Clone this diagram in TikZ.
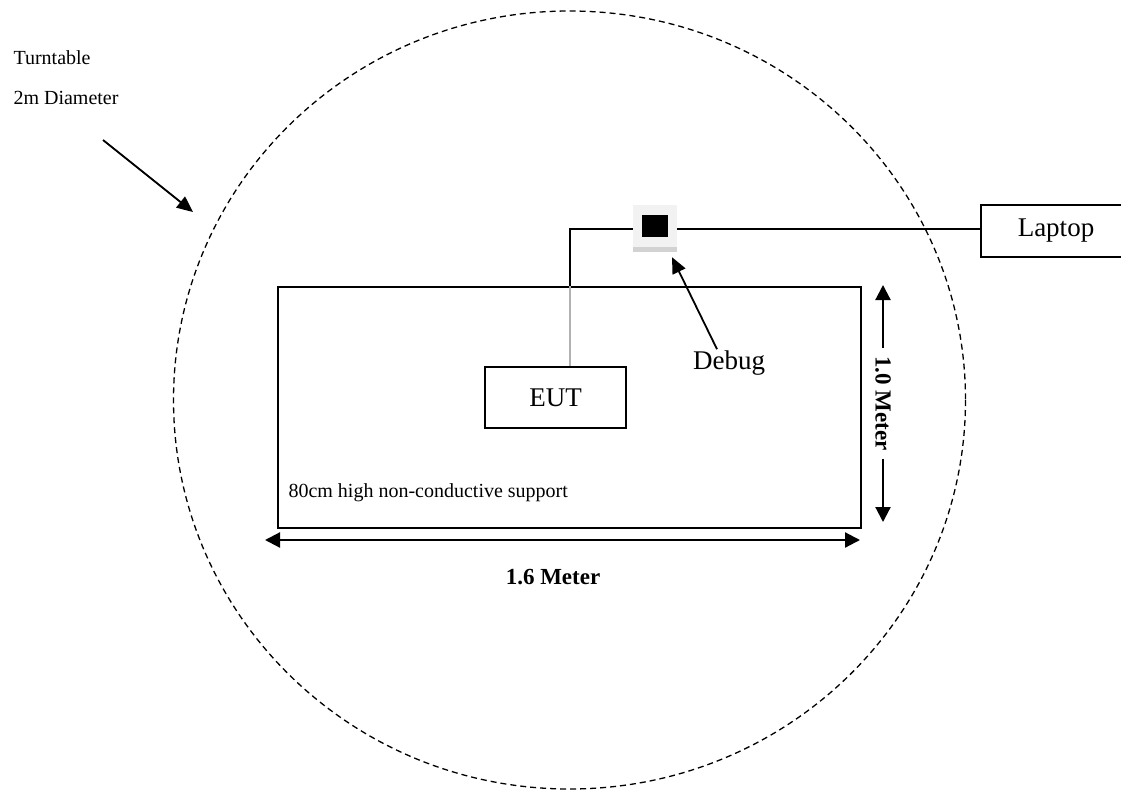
\documentclass[tikz,border=0pt]{standalone}
\usepackage{fontspec}
\setmainfont{Liberation Serif}
\usepackage{tikz}
\usetikzlibrary{arrows.meta,shadows}

\tikzset{
  box/.style={draw, line width=1.5pt, inner sep=0pt},
  lbl/.style={font=\fontsize{27}{30}\selectfont},
  dimlbl/.style={font=\bfseries\fontsize{23}{26}\selectfont},
  small/.style={font=\fontsize{20}{24}\selectfont},
  pointer/.style={line width=1.8pt, -{Triangle[length=16pt,width=14pt]}},
  dim/.style={line width=2.2pt, {Triangle[length=15pt,width=15pt]}-{Triangle[length=15pt,width=15pt]}},
  cable/.style={line width=1.5pt}
}

\begin{document}
\begin{tikzpicture}[x=1pt,y=-1pt]
    \useasboundingbox (0,0) rectangle (1121,792);

    % Turntable
    \draw[line width=1.3pt, dash pattern=on 6pt off 4pt]
      (569.5,400) ellipse [x radius=396, y radius=389];
    \node[small, anchor=west] (turn) at (10,58) {Turntable};
    \node[small, anchor=west] (diam) at (10,98) {2m Diameter};
    \coordinate (ttail) at (103,140);
    \coordinate (ttip) at (193,212);
    \draw[pointer] (ttail) -- (ttip);

    % Table
    \node[box, anchor=north west, minimum width=583pt, minimum height=241pt]
      (support) at (277,286) {};
    \node[small, anchor=west] (supptxt) at (285,493) {80cm high non-conductive support};

    % EUT, debug board and laptop
    \node[box, lbl, minimum width=141pt, minimum height=61pt] (eut) at (555.5,397.5) {EUT};
    \node[fill=gray!10, minimum width=44pt, minimum height=42pt, inner sep=0pt,
      drop shadow={shadow xshift=0pt, shadow yshift=-5pt, fill=gray!35, opacity=1}]
      (debug) at (655,226) {};
    \node[fill=black, minimum width=26pt, minimum height=22pt, inner sep=0pt]
      (port) at (debug.center) {};
    \node[box, lbl, anchor=west, minimum width=150pt, minimum height=52pt, text width=140pt]
      (laptop) at (980,231) {\hspace*{32pt}Laptop};

    % Cables
    \coordinate (bend) at (570,229);
    \draw[cable, gray!60] (eut.north -| bend) -- (support.north -| bend);
    \draw[cable] (support.north -| bend) -- (bend) -- (bend -| debug.west);
    \draw[cable] (bend -| debug.east) -- (bend -| laptop.west);

    \node[lbl] (dbg) at (729,363) {Debug};
    \draw[pointer] ([xshift=-12pt,yshift=-2pt]dbg.north) -- ([xshift=17pt,yshift=-10pt]debug.south);

    % Dimensions
    \coordinate (hl) at (265,540);
    \coordinate (hr) at (860,540);
    \draw[dim] (hl) -- (hr);
    \node[dimlbl] (wlbl) at (553,577) {1.6 Meter};

    \coordinate (vt) at (883,285);
    \coordinate (vb) at (883,522);
    \draw[dim] (vt) -- (vb)
      node[midway, dimlbl, rotate=-90, fill=white, inner xsep=8pt] (hlbl) {1.0 Meter};
\end{tikzpicture}
\end{document}
